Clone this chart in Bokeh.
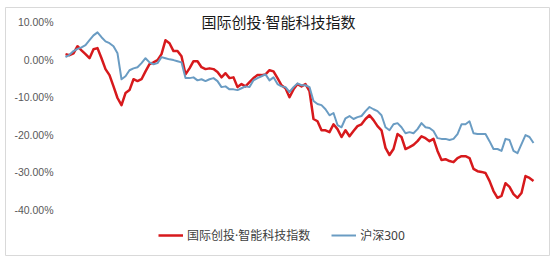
from bokeh.plotting import figure
from bokeh.models import Range1d, FixedTicker, Legend, LegendItem, Label
from bokeh.embed import file_html
from bokeh.resources import INLINE

title_text = "国际创投·智能科技指数"
series_names = ["国际创投·智能科技指数", "沪深300"]

# cumulative return, %, one value per trading step
index_ai = [1.5, 1.2, 1.7, 3.6, 2.5, 1.5, 0.4, 2.8, 3.1, 0.4,
            -2.5, -4.1, -7.1, -10.2, -12.1, -8.9, -8.1, -5.2, -5.7, -5.2,
            -3.1, -1.2, -0.7, -0.1, 1.5, 5.2, 4.4, 2.3, 2.3, 0.9,
            -3.9, -2.3, -0.4, -0.4, -2.0, -2.5, -2.3, -2.5, -3.3, -4.7,
            -3.6, -4.9, -4.7, -7.3, -6.5, -7.1, -6.0, -4.9, -4.1, -4.1,
            -3.9, -2.8, -3.1, -4.9, -6.8, -7.6, -10.0, -7.9, -6.5, -7.1,
            -6.5, -8.4, -15.8, -16.4, -18.8, -18.8, -19.3, -17.2, -18.5, -20.6,
            -18.8, -20.4, -19.0, -17.7, -17.2, -15.8, -14.8, -16.1, -17.7, -18.8,
            -23.5, -25.4, -23.8, -19.8, -20.6, -23.8, -23.3, -22.7, -21.7, -20.4,
            -20.9, -21.7, -21.1, -24.3, -26.7, -26.5, -27.0, -27.3, -26.2, -25.7,
            -25.7, -26.2, -29.1, -29.7, -29.9, -30.2, -32.3, -35.0, -36.8, -36.3,
            -32.9, -33.9, -35.8, -36.8, -35.5, -31.0, -31.5, -32.3]

csi300 = [0.7, 1.3, 2.3, 2.9, 3.3, 3.9, 5.2, 6.5, 7.3, 6.0,
          4.9, 4.4, 3.6, 1.7, -5.2, -4.4, -2.8, -2.3, -2.0, -0.9,
          0.4, -0.7, -1.2, -0.9, 0.7, 0.4, 0.1, -0.1, -0.4, -0.7,
          -4.9, -4.9, -4.7, -5.5, -5.2, -5.7, -5.2, -4.9, -5.7, -7.3,
          -7.1, -7.9, -7.9, -8.1, -7.6, -7.1, -7.3, -5.5, -4.9, -4.4,
          -3.9, -5.5, -4.7, -6.5, -7.1, -7.3, -8.6, -7.3, -6.3, -6.8,
          -6.8, -7.3, -11.0, -11.8, -12.1, -13.2, -14.8, -14.2, -17.4, -18.0,
          -15.6, -15.0, -15.8, -15.3, -15.0, -13.7, -12.6, -13.2, -13.7, -14.8,
          -18.0, -18.8, -17.2, -16.9, -18.0, -19.6, -19.3, -19.6, -18.5, -16.9,
          -18.0, -18.2, -19.0, -20.9, -21.1, -21.1, -21.4, -21.1, -19.8, -17.2,
          -17.2, -16.4, -19.6, -19.8, -19.8, -19.8, -21.7, -23.8, -23.8, -24.3,
          -21.1, -21.4, -24.3, -24.9, -22.5, -20.1, -20.6, -22.2]

days = list(range(len(index_ai)))

y_ticks = [-40, -30, -20, -10, 0, 10]
y_tick_labels = ["-40.00%", "-30.00%", "-20.00%", "-10.00%", "0.00%", "10.00%"]

p = figure(width=558, height=265, output_backend="svg", toolbar_location=None,
           x_range=Range1d(-15, 121), y_range=Range1d(-52.18, 13.92),
           min_border_left=5, min_border_right=9, min_border_top=7, min_border_bottom=10)
p.background_fill_color = "white"
p.border_fill_color = "white"
p.outline_line_color = "#d9d9d9"
p.outline_line_width = 1
p.grid.visible = False
p.xaxis.visible = False

ya = p.yaxis[0]
ya.ticker = FixedTicker(ticks=y_ticks)
ya.major_label_overrides = {t: l for t, l in zip(y_ticks, y_tick_labels)}
ya.axis_line_color = None
ya.major_tick_line_color = None
ya.minor_tick_line_color = None
ya.major_tick_out = 0
ya.major_tick_in = 0
ya.major_label_standoff = -48
ya.major_label_text_font = "Liberation Sans"
ya.major_label_text_font_size = "10.5px"
ya.major_label_text_color = "#595959"

r1 = p.line(days, index_ai, line_color="#d7191c", line_width=2.5, line_join="round")
r2 = p.line(days, csi300, line_color="#6a9cc3", line_width=2, line_join="round")

cjk = "'Noto Sans', 'Noto Sans CJK SC'"
p.add_layout(Label(x=53.25, y=10.05, text=title_text, text_align="center",
                   text_baseline="middle", text_font=cjk,
                   text_font_size="15px", text_color="#1a1a1a"))

legend = Legend(items=[LegendItem(label=series_names[0], renderers=[r1]),
                       LegendItem(label=series_names[1], renderers=[r2])],
                orientation="horizontal", location=(153, 11),
                glyph_width=25, glyph_height=14, label_height=14,
                label_standoff=4, spacing=21, padding=0, margin=0,
                border_line_color=None, background_fill_alpha=0,
                label_text_font=cjk, label_text_font_size="12px",
                label_text_color="#404040")
p.add_layout(legend)

open("out.html", "w").write(file_html(p, INLINE))
